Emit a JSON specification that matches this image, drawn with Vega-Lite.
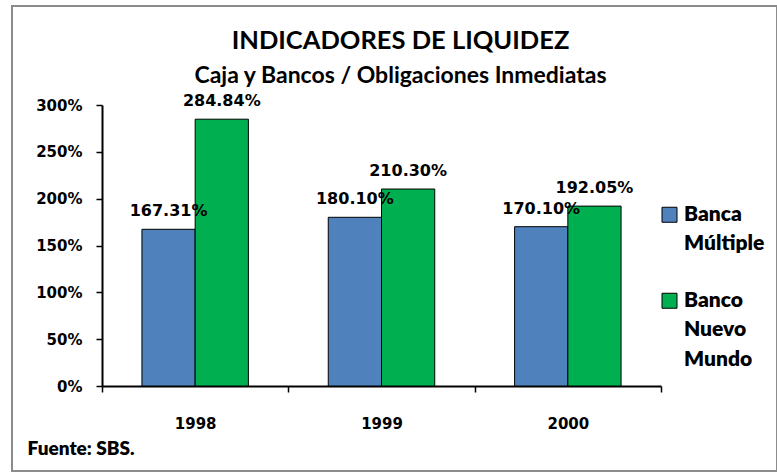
{
  "$schema": "https://vega.github.io/schema/vega-lite/v6.json",
  "width": 765,
  "height": 465,
  "autosize": {"type": "none"},
  "padding": {"left": 12, "top": 6, "right": 0, "bottom": 1},
  "background": "white",
  "title": {
    "text": "INDICADORES DE LIQUIDEZ",
    "subtitle": "Caja y Bancos / Obligaciones Inmediatas",
    "anchor": "middle",
    "frame": "group",
    "offset": -82,
    "dx": 6,
    "font": "Lato",
    "fontSize": 25.5,
    "fontWeight": "bold",
    "color": "black",
    "subtitleFont": "Lato",
    "subtitleFontSize": 23,
    "subtitleFontWeight": "bold",
    "subtitleColor": "black",
    "subtitlePadding": 11
  },
  "data": {
    "values": [
      {"year": "1998", "serie": "Banca Múltiple", "value": 1.6731},
      {"year": "1998", "serie": "Banco Nuevo Mundo", "value": 2.8484},
      {"year": "1999", "serie": "Banca Múltiple", "value": 1.8010},
      {"year": "1999", "serie": "Banco Nuevo Mundo", "value": 2.1030},
      {"year": "2000", "serie": "Banca Múltiple", "value": 1.7010},
      {"year": "2000", "serie": "Banco Nuevo Mundo", "value": 1.9205}
    ]
  },
  "encoding": {
    "x": {
      "field": "year",
      "type": "nominal",
      "scale": {"range": [90, 649], "paddingInner": 0, "paddingOuter": 0},
      "axis": {
        "title": "Fuente: SBS.",
        "titleX": 15,
        "titleY": 62,
        "titleAlign": "left",
        "titleBaseline": "middle",
        "titleFont": "Lato",
        "titleFontSize": 19,
        "titleFontWeight": 800,
        "titleColor": "black",
        "labelAngle": 0,
        "offset": -85,
        "tickBand": "extent",
        "domainColor": "black",
        "domainWidth": 2,
        "tickColor": "black",
        "tickWidth": 1.5,
        "tickSize": 6,
        "labelPadding": 24,
        "labelFont": "DejaVu Sans",
        "labelFontSize": 15,
        "labelFontWeight": "bold",
        "labelColor": "black"
      }
    },
    "xOffset": {
      "field": "serie",
      "sort": ["Banca Múltiple", "Banco Nuevo Mundo"],
      "scale": {"paddingInner": 0, "paddingOuter": 0.75}
    },
    "y": {
      "field": "value",
      "type": "quantitative",
      "scale": {"domain": [0, 3], "range": [380, 99], "nice": false},
      "axis": {
        "title": null,
        "format": ".0%",
        "values": [0, 0.5, 1, 1.5, 2, 2.5, 3],
        "offset": -90,
        "grid": false,
        "domainColor": "black",
        "domainWidth": 2,
        "tickColor": "black",
        "tickWidth": 1.5,
        "tickSize": 6,
        "labelPadding": 14,
        "labelFont": "DejaVu Sans",
        "labelFontSize": 15,
        "labelFontWeight": "bold",
        "labelColor": "black"
      }
    }
  },
  "layer": [
    {
      "mark": {"type": "bar", "stroke": "black", "strokeWidth": 1},
      "encoding": {
        "color": {
          "field": "serie",
          "type": "nominal",
          "sort": ["Banca Múltiple", "Banco Nuevo Mundo"],
          "scale": {"domain": ["Banca Múltiple", "Banco Nuevo Mundo"], "range": ["#4F81BD", "#00B050"]},
          "legend": {
            "orient": "none",
            "legendX": 647,
            "legendY": 187,
            "title": null,
            "symbolType": "M-1,0.5H1V2.5H-1Z",
            "symbolSize": 225,
            "symbolStrokeColor": "black",
            "symbolStrokeWidth": 1,
            "labelFont": "Lato",
            "labelFontSize": 21,
            "labelFontWeight": 800,
            "labelColor": "black",
            "labelOffset": 4,
            "labelLimit": 0,
            "labelBaseline": "top",
            "rowPadding": 24,
            "labelExpr": "datum.label == 'Banca Múltiple' ? ['Banca', 'Múltiple'] : ['Banco', 'Nuevo', 'Mundo']"
          }
        }
      }
    },
    {
      "mark": {"type": "text", "font": "DejaVu Sans", "fontWeight": "bold", "fontSize": 16, "baseline": "alphabetic", "dy": -13, "color": "black"},
      "encoding": {
        "text": {"field": "value", "type": "quantitative", "format": ".2%"}
      }
    }
  ],
  "config": {
    "view": {"stroke": "#8c8c8c", "strokeWidth": 2},
    "style": {"guide-label": {"lineHeight": 29.6}}
  }
}
